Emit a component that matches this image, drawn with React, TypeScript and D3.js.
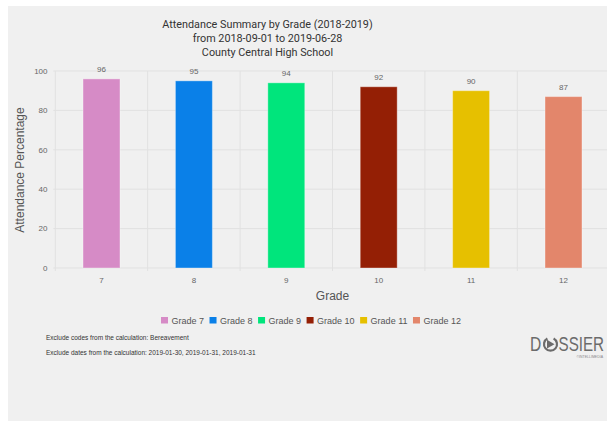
import React, { useEffect, useRef } from "react";
import * as d3 from "d3";

const grades = ["7", "8", "9", "10", "11", "12"];
const attendance = [96, 95, 94, 92, 90, 87];
const legendLabels = ["Grade 7", "Grade 8", "Grade 9", "Grade 10", "Grade 11", "Grade 12"];
const colors = ["#d68bc6", "#0a80e8", "#00e57c", "#941f05", "#e6c000", "#e3866b"];
const yTicks = [0, 20, 40, 60, 80, 100];
const titleLines = [
  "Attendance Summary by Grade (2018-2019)",
  "from 2018-09-01 to 2019-06-28",
  "County Central High School",
];
const footnotes = [
  "Exclude codes from the calculation: Bereavement",
  "Exclude dates from the calculation: 2019-01-30, 2019-01-31, 2019-01-31",
];

const W = 607;
const H = 421;
const FONT = "'Liberation Sans', Arial, sans-serif";
const TFONT = "Roboto, 'Liberation Sans', Arial, sans-serif";

export default function App() {
  const ref = useRef<SVGSVGElement>(null);

  useEffect(() => {
    const svg = d3.select(ref.current);
    svg.selectAll("*").remove();

    svg.append("rect").attr("x", 0).attr("y", 0).attr("width", W).attr("height", H).attr("fill", "#ffffff");
    svg.append("rect").attr("x", 8).attr("y", 6).attr("width", W - 8).attr("height", H - 6).attr("fill", "#f0f0f0");

    const left = 55.3;
    const right = 609.7;
    const top = 71;
    const bottom = 268;

    const x = d3.scaleBand<string>().domain(grades).range([left, right]).paddingInner(0).paddingOuter(0);
    const y = d3.scaleLinear().domain([0, 100]).range([bottom, top]);

    const g = svg.append("g");

    g.selectAll("line.hg")
      .data(yTicks)
      .enter()
      .append("line")
      .attr("x1", left - 2)
      .attr("x2", right)
      .attr("y1", (d) => y(d))
      .attr("y2", (d) => y(d))
      .attr("stroke", "#e1e1e1")
      .attr("stroke-width", 1);

    const bounds = grades.map((d) => x(d) as number).concat([right]);
    g.selectAll("line.vg")
      .data(bounds)
      .enter()
      .append("line")
      .attr("x1", (d) => d)
      .attr("x2", (d) => d)
      .attr("y1", top)
      .attr("y2", bottom + 3)
      .attr("stroke", "#e1e1e1")
      .attr("stroke-width", 1);

    g.selectAll("text.yt")
      .data(yTicks)
      .enter()
      .append("text")
      .attr("x", 47.5)
      .attr("y", (d) => y(d))
      .attr("dy", "0.35em")
      .attr("text-anchor", "end")
      .attr("font-family", FONT)
      .attr("font-size", 8)
      .attr("fill", "#666")
      .text((d) => d);

    const bw = x.bandwidth() * 0.4;
    g.selectAll("rect.bar")
      .data(attendance)
      .enter()
      .append("rect")
      .attr("x", (d, i) => (x(grades[i]) as number) + x.bandwidth() / 2 - bw / 2)
      .attr("y", (d) => y(d))
      .attr("width", bw)
      .attr("height", (d) => y(0) - y(d))
      .attr("fill", (d, i) => colors[i])
      .attr("stroke", "rgba(255,255,255,0.35)")
      .attr("stroke-width", 1);

    g.selectAll("text.vl")
      .data(attendance)
      .enter()
      .append("text")
      .attr("x", (d, i) => (x(grades[i]) as number) + x.bandwidth() / 2)
      .attr("y", (d) => y(d) - 7)
      .attr("text-anchor", "middle")
      .attr("font-family", FONT)
      .attr("font-size", 8)
      .attr("fill", "#666")
      .text((d) => d);

    g.selectAll("text.xt")
      .data(grades)
      .enter()
      .append("text")
      .attr("x", (d) => (x(d) as number) + x.bandwidth() / 2)
      .attr("y", 283)
      .attr("text-anchor", "middle")
      .attr("font-family", FONT)
      .attr("font-size", 8)
      .attr("fill", "#666")
      .text((d) => d);

    svg.append("text")
      .attr("x", 332.5)
      .attr("y", 299.5)
      .attr("text-anchor", "middle")
      .attr("font-family", FONT)
      .attr("font-size", 12)
      .attr("fill", "#555")
      .text("Grade");

    svg.append("text")
      .attr("transform", "translate(24,170) rotate(-90)")
      .attr("text-anchor", "middle")
      .attr("font-family", FONT)
      .attr("font-size", 12)
      .attr("fill", "#555")
      .text("Attendance Percentage");

    svg.append("g")
      .selectAll("text")
      .data(titleLines)
      .enter()
      .append("text")
      .attr("x", 267.5)
      .attr("y", (d, i) => 28 + i * 13.8)
      .attr("text-anchor", "middle")
      .attr("font-family", TFONT)
      .attr("font-size", 10.8)
      .attr("fill", "#333")
      .text((d) => d);

    const lg = svg.append("g");
    let cx = 0;
    legendLabels.forEach((lab, i) => {
      const item = lg.append("g").attr("transform", `translate(${cx},0)`);
      item.append("rect").attr("x", 0).attr("y", 317).attr("width", 7).attr("height", 6.5).attr("fill", colors[i]);
      const t = item
        .append("text")
        .attr("x", 10.5)
        .attr("y", 323.5)
        .attr("font-family", FONT)
        .attr("font-size", 9)
        .attr("fill", "#555")
        .text(lab);
      const tw = (t.node() as SVGTextElement).getComputedTextLength();
      cx += 10.5 + tw + 5.5;
    });
    const total = cx - 5.5;
    lg.attr("transform", `translate(${311 - total / 2},0)`);

    svg.append("g")
      .selectAll("text")
      .data(footnotes)
      .enter()
      .append("text")
      .attr("x", 46)
      .attr("y", (d, i) => 339.5 + i * 15.8)
      .attr("font-family", FONT)
      .attr("font-size", 6.5)
      .attr("fill", "#333")
      .text((d) => d);

    const logo = svg.append("g").attr("fill", "#6b6b6b");
    logo.append("text")
      .attr("transform", "translate(530,351) scale(0.78,1)")
      .attr("font-family", FONT)
      .attr("font-size", 20)
      .text("D");
    logo.append("path")
      .attr("d", d3.arc()({ innerRadius: 5.4, outerRadius: 7.6, startAngle: 0.5, endAngle: Math.PI * 2 - 0.5 }) as string)
      .attr("transform", "translate(550.5,344.2)");
    logo.append("path")
      .attr("d", "M547,339.8 L554.5,344.2 L547,348.6 Z");
    logo.append("text")
      .attr("transform", "translate(558.5,351) scale(0.76,1)")
      .attr("font-family", FONT)
      .attr("font-size", 20)
      .text("SSIER");
    logo.append("text")
      .attr("x", 603)
      .attr("y", 358)
      .attr("text-anchor", "end")
      .attr("font-family", FONT)
      .attr("font-size", 3.5)
      .attr("fill", "#888")
      .text("©INTELLIMEDIA");
  }, []);

  return (
    <svg
      ref={ref}
      width={W}
      height={H}
      style={{ position: "absolute", left: 0, top: 0, display: "block" }}
    />
  );
}
